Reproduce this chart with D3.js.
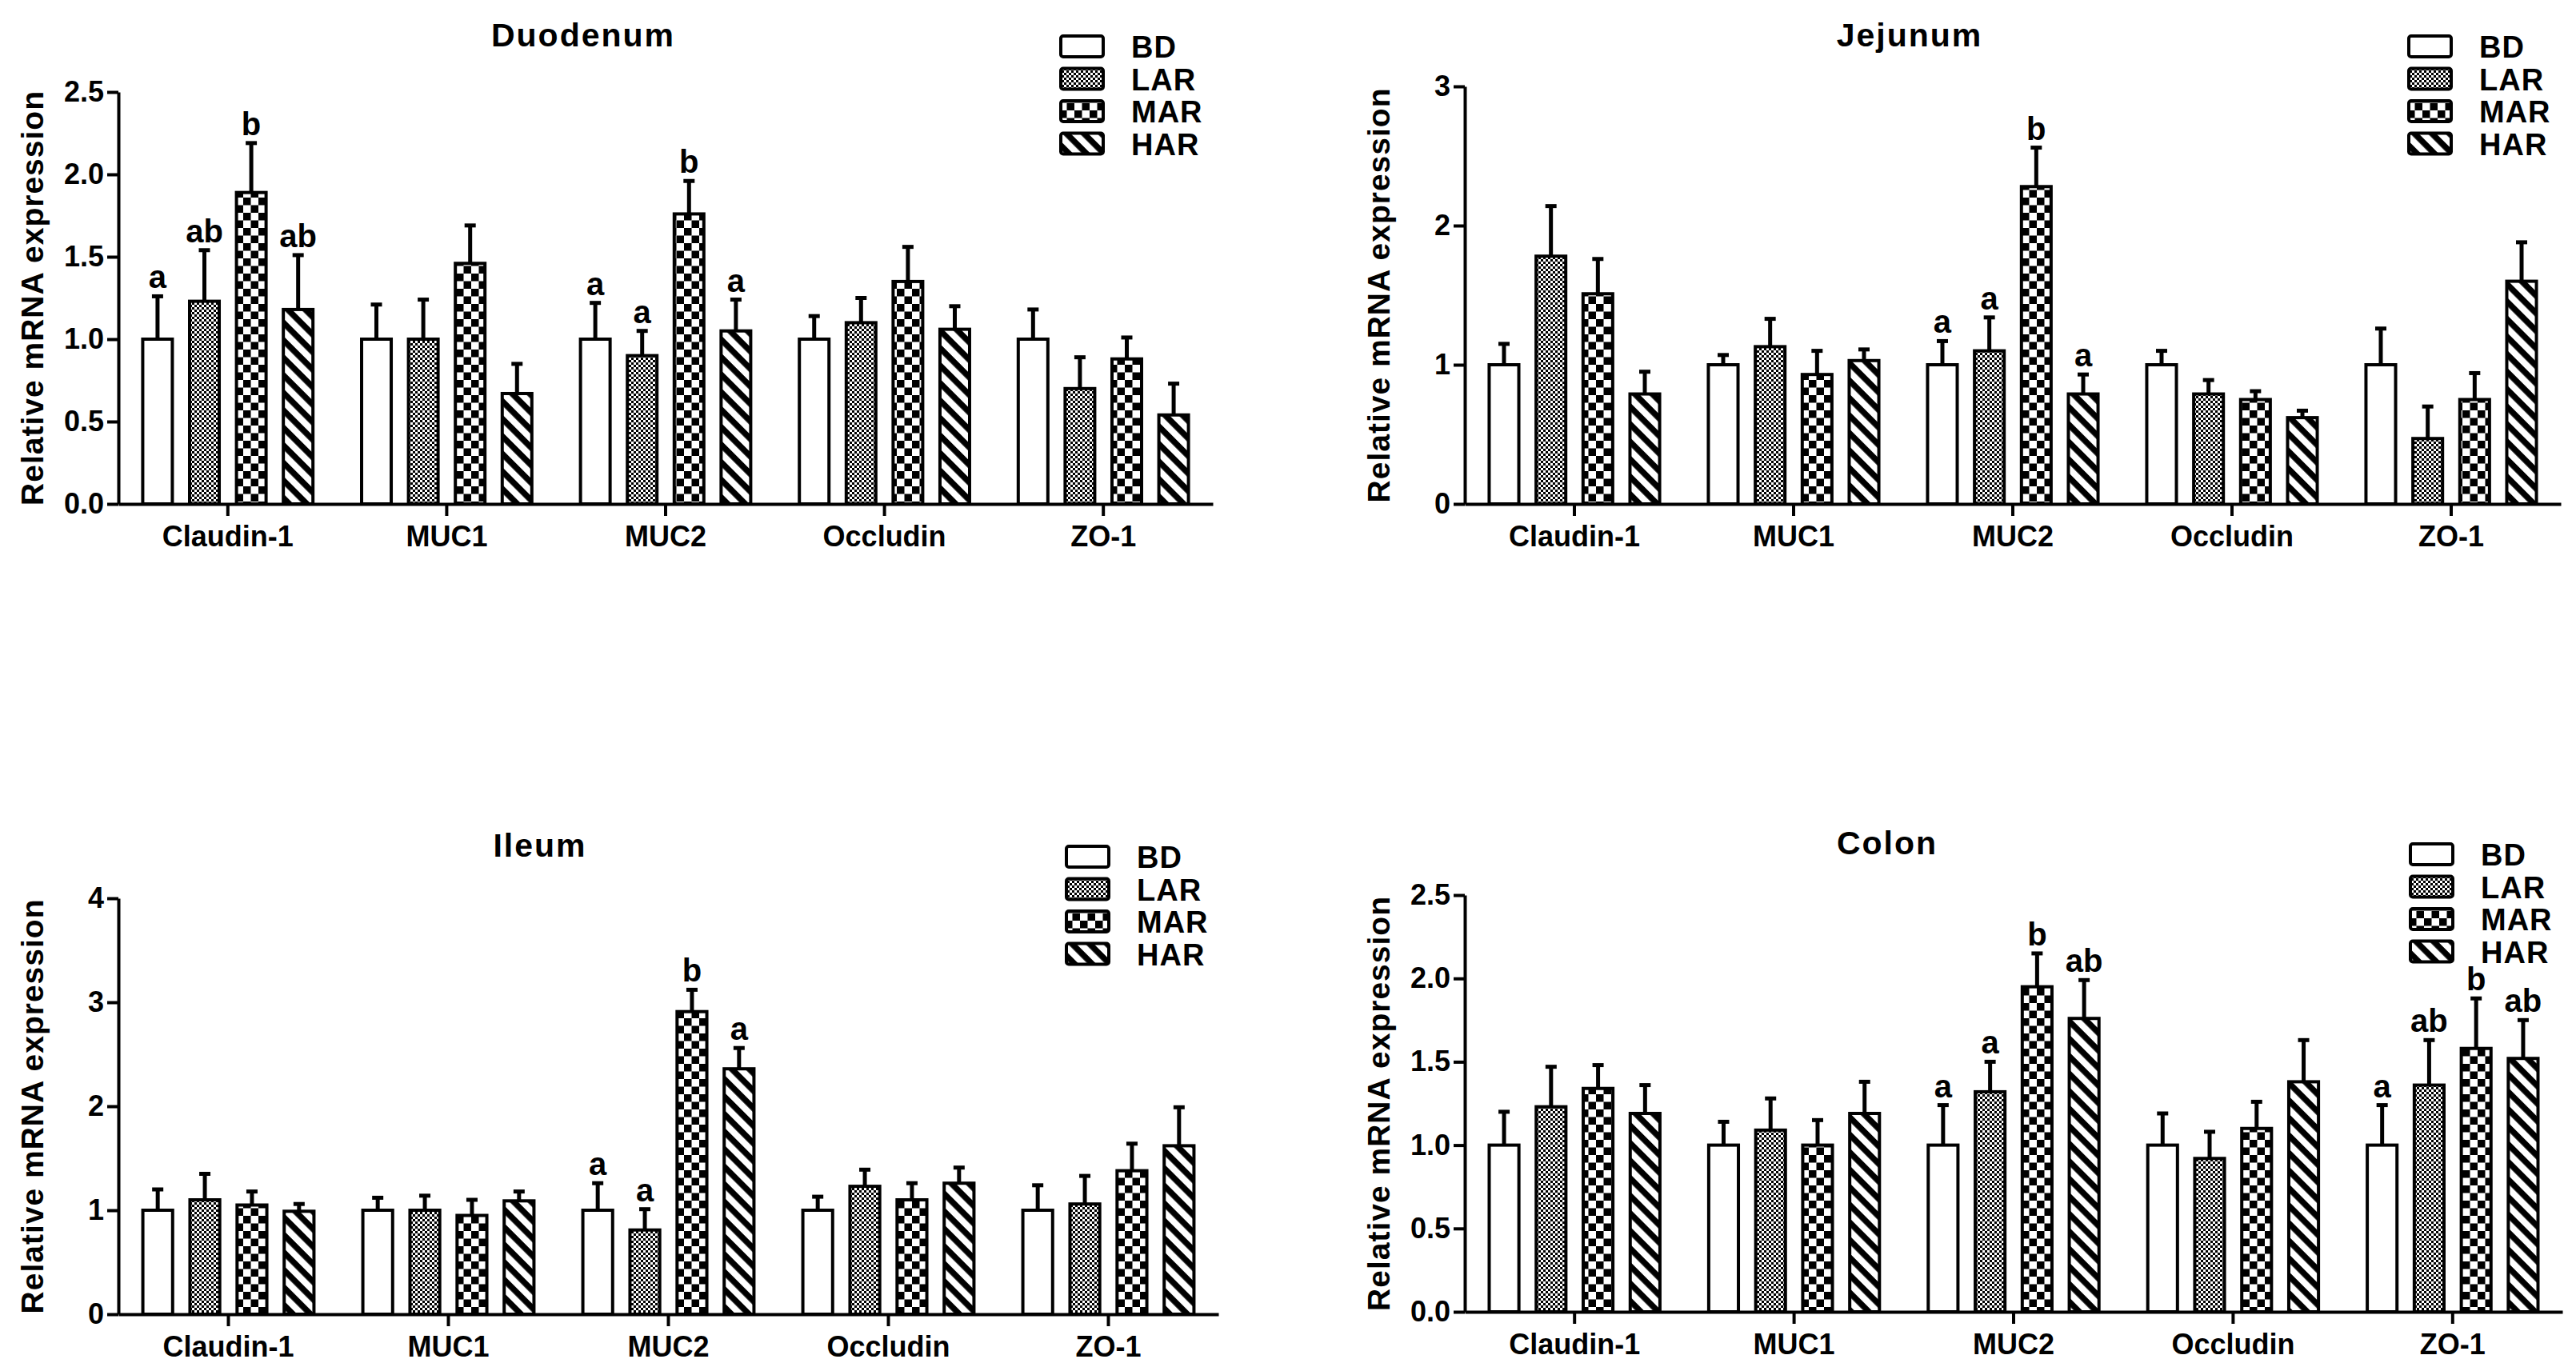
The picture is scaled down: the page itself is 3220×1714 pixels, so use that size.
<!DOCTYPE html>
<html>
<head>
<meta charset="utf-8">
<script src="https://d3js.org/d3.v7.min.js"></script>
<style>
  body { margin: 0; background: #fff; }
  text { font-family: "Liberation Sans", Arial, sans-serif; font-weight: bold; fill: #000; }
</style>
</head>
<body>
<div id="chart"></div>
<script>
// groups and genes
var groups = ["BD", "LAR", "MAR", "HAR"];
var genes = ["Claudin-1", "MUC1", "MUC2", "Occludin", "ZO-1"];

// one row per gene, values in group order
var duodenumMean = [[1.00, 1.23, 1.89, 1.18], [1.00, 1.00, 1.46, 0.67], [1.00, 0.90, 1.76, 1.05], [1.00, 1.10, 1.35, 1.06], [1.00, 0.70, 0.88, 0.54]];
var duodenumSem  = [[0.26, 0.31, 0.30, 0.33], [0.21, 0.24, 0.23, 0.18], [0.22, 0.15, 0.20, 0.19], [0.14, 0.15, 0.21, 0.14], [0.18, 0.19, 0.13, 0.19]];
var duodenumLetters = [["a", "ab", "b", "ab"], ["", "", "", ""], ["a", "a", "b", "a"], ["", "", "", ""], ["", "", "", ""]];

var jejunumMean = [[1.00, 1.78, 1.51, 0.79], [1.00, 1.13, 0.93, 1.03], [1.00, 1.10, 2.28, 0.79], [1.00, 0.79, 0.75, 0.62], [1.00, 0.47, 0.75, 1.60]];
var jejunumSem  = [[0.15, 0.36, 0.25, 0.16], [0.07, 0.20, 0.17, 0.08], [0.17, 0.24, 0.28, 0.14], [0.10, 0.10, 0.06, 0.05], [0.26, 0.23, 0.19, 0.28]];
var jejunumLetters = [["", "", "", ""], ["", "", "", ""], ["a", "a", "b", "a"], ["", "", "", ""], ["", "", "", ""]];

var ileumMean = [[1.00, 1.10, 1.05, 0.99], [1.00, 1.00, 0.95, 1.09], [1.00, 0.81, 2.91, 2.36], [1.00, 1.23, 1.10, 1.26], [1.00, 1.06, 1.38, 1.62]];
var ileumSem  = [[0.20, 0.25, 0.13, 0.07], [0.12, 0.14, 0.15, 0.09], [0.26, 0.20, 0.21, 0.20], [0.13, 0.16, 0.16, 0.15], [0.24, 0.27, 0.26, 0.37]];
var ileumLetters = [["", "", "", ""], ["", "", "", ""], ["a", "a", "b", "a"], ["", "", "", ""], ["", "", "", ""]];

var colonMean = [[1.00, 1.23, 1.34, 1.19], [1.00, 1.09, 1.00, 1.19], [1.00, 1.32, 1.95, 1.76], [1.00, 0.92, 1.10, 1.38], [1.00, 1.36, 1.58, 1.52]];
var colonSem  = [[0.20, 0.24, 0.14, 0.17], [0.14, 0.19, 0.15, 0.19], [0.24, 0.18, 0.20, 0.23], [0.19, 0.16, 0.16, 0.25], [0.24, 0.27, 0.30, 0.23]];
var colonLetters = [["", "", "", ""], ["", "", "", ""], ["a", "a", "b", "ab"], ["", "", "", ""], ["a", "ab", "b", "ab"]];

var duodenumTicks = [0, 0.5, 1.0, 1.5, 2.0, 2.5];
var jejunumTicks = [0, 1, 2, 3];
var ileumTicks = [0, 1, 2, 3, 4];
var colonTicks = [0, 0.5, 1.0, 1.5, 2.0, 2.5];

var W = 3220, H = 1714;
var svg = d3.select("#chart").append("svg")
  .attr("width", W).attr("height", H);
svg.append("rect").attr("width", W).attr("height", H).attr("fill", "#fff");

// fill patterns
var defs = svg.append("defs");
var pLar = defs.append("pattern").attr("id", "pLAR")
  .attr("patternUnits", "userSpaceOnUse").attr("width", 6).attr("height", 6);
pLar.append("rect").attr("width", 6).attr("height", 6).attr("fill", "#fff");
pLar.append("rect").attr("width", 3).attr("height", 3).attr("fill", "#000");
pLar.append("rect").attr("x", 3).attr("y", 3).attr("width", 3).attr("height", 3).attr("fill", "#000");

var pMar = defs.append("pattern").attr("id", "pMAR")
  .attr("patternUnits", "userSpaceOnUse").attr("width", 19).attr("height", 19);
pMar.append("rect").attr("width", 19).attr("height", 19).attr("fill", "#fff");
pMar.append("rect").attr("width", 9.5).attr("height", 9.5).attr("fill", "#000");
pMar.append("rect").attr("x", 9.5).attr("y", 9.5).attr("width", 9.5).attr("height", 9.5).attr("fill", "#000");

var pHar = defs.append("pattern").attr("id", "pHAR")
  .attr("patternUnits", "userSpaceOnUse").attr("width", 15.5).attr("height", 15.5)
  .attr("patternTransform", "rotate(45)");
pHar.append("rect").attr("width", 15.5).attr("height", 15.5).attr("fill", "#fff");
pHar.append("rect").attr("width", 15.5).attr("height", 7.5).attr("fill", "#000");

var fills = { BD: "#fff", LAR: "url(#pLAR)", MAR: "url(#pMAR)", HAR: "url(#pHAR)" };

var panels = [
  { title: "Duodenum", mean: duodenumMean, sem: duodenumSem, letters: duodenumLetters, ticks: duodenumTicks, fmt: d3.format(".1f"),
    x0: 148, x1: 1516, y0: 630, yTop: 115, titleX: 729 },
  { title: "Jejunum", mean: jejunumMean, sem: jejunumSem, letters: jejunumLetters, ticks: jejunumTicks, fmt: d3.format("d"),
    x0: 1831, x1: 3201, y0: 630, yTop: 108, titleX: 2387 },
  { title: "Ileum", mean: ileumMean, sem: ileumSem, letters: ileumLetters, ticks: ileumTicks, fmt: d3.format("d"),
    x0: 148, x1: 1523, y0: 1643, yTop: 1123, titleX: 675 },
  { title: "Colon", mean: colonMean, sem: colonSem, letters: colonLetters, ticks: colonTicks, fmt: d3.format(".1f"),
    x0: 1831, x1: 3203, y0: 1640, yTop: 1119, titleX: 2359 }
];

panels.forEach(drawPanel);

function drawPanel(p) {
  var g = svg.append("g");
  var x = d3.scaleBand().domain(genes).range([p.x0, p.x1]).padding(0);
  var xs = d3.scaleBand().domain(groups).range([0, x.bandwidth()]).paddingInner(0.3).paddingOuter(0.485);
  var y = d3.scaleLinear().domain([0, d3.max(p.ticks)]).range([p.y0, p.yTop]);

  // title
  g.append("text").attr("x", p.titleX).attr("y", p.y0 - 572)
    .attr("text-anchor", "middle").style("font-size", "41px").style("letter-spacing", "2px")
    .text(p.title);

  // y axis label
  g.append("text")
    .attr("transform", "translate(" + (p.x0 - 94) + "," + ((p.y0 + p.yTop) / 2) + ") rotate(-90)")
    .attr("text-anchor", "middle").style("font-size", "39px").style("letter-spacing", "1px")
    .text("Relative mRNA expression");

  // bars
  genes.forEach(function(gene, gi) {
    groups.forEach(function(grp, k) {
      var v = p.mean[gi][k], e = p.sem[gi][k];
      var bx = x(gene) + xs(grp);
      var cx = bx + xs.bandwidth() / 2;
      g.append("rect")
        .attr("x", bx + 2).attr("y", y(v))
        .attr("width", xs.bandwidth() - 4).attr("height", y(0) - y(v))
        .attr("fill", fills[grp]).attr("stroke", "#000").attr("stroke-width", 4);
      g.append("line").attr("x1", cx).attr("x2", cx)
        .attr("y1", y(v)).attr("y2", y(v + e))
        .attr("stroke", "#000").attr("stroke-width", 5);
      g.append("line").attr("x1", cx - 7).attr("x2", cx + 7)
        .attr("y1", y(v + e)).attr("y2", y(v + e))
        .attr("stroke", "#000").attr("stroke-width", 5);
      var lab = p.letters[gi][k];
      if (lab) {
        g.append("text").attr("x", cx).attr("y", y(v + e) - 10)
          .attr("text-anchor", "middle").style("font-size", "40px")
          .text(lab);
      }
    });
  });

  // axes
  var ya = g.append("g").attr("transform", "translate(" + p.x0 + ",0)")
    .call(d3.axisLeft(y).tickValues(p.ticks).tickFormat(p.fmt).tickSize(14).tickSizeOuter(0).tickPadding(4));
  ya.selectAll("text").style("font-size", "36px").style("font-family", "Liberation Sans, Arial").style("font-weight", "bold");
  ya.selectAll("line").attr("stroke-width", 4);
  ya.select(".domain").attr("stroke-width", 4);

  var xa = g.append("g").attr("transform", "translate(0," + p.y0 + ")")
    .call(d3.axisBottom(x).tickSize(15).tickSizeOuter(0).tickPadding(12));
  xa.selectAll("text").style("font-size", "36px").style("font-family", "Liberation Sans, Arial").style("font-weight", "bold");
  xa.selectAll("line").attr("stroke-width", 4);
  xa.select(".domain").attr("stroke-width", 4);

  // legend
  var lg = g.append("g").attr("transform", "translate(" + (p.x1 - 192) + "," + (p.y0 - 587) + ")");
  groups.forEach(function(grp, k) {
    lg.append("rect").attr("x", 2).attr("y", k * 40.5 + 2).attr("width", 53).attr("height", 26)
      .attr("rx", 3).attr("fill", fills[grp]).attr("stroke", "#000").attr("stroke-width", 4);
    lg.append("text").attr("x", 90).attr("y", k * 40.5 + 29)
      .style("font-size", "38px").style("letter-spacing", "1px").text(grp);
  });
}
</script>
</body>
</html>
